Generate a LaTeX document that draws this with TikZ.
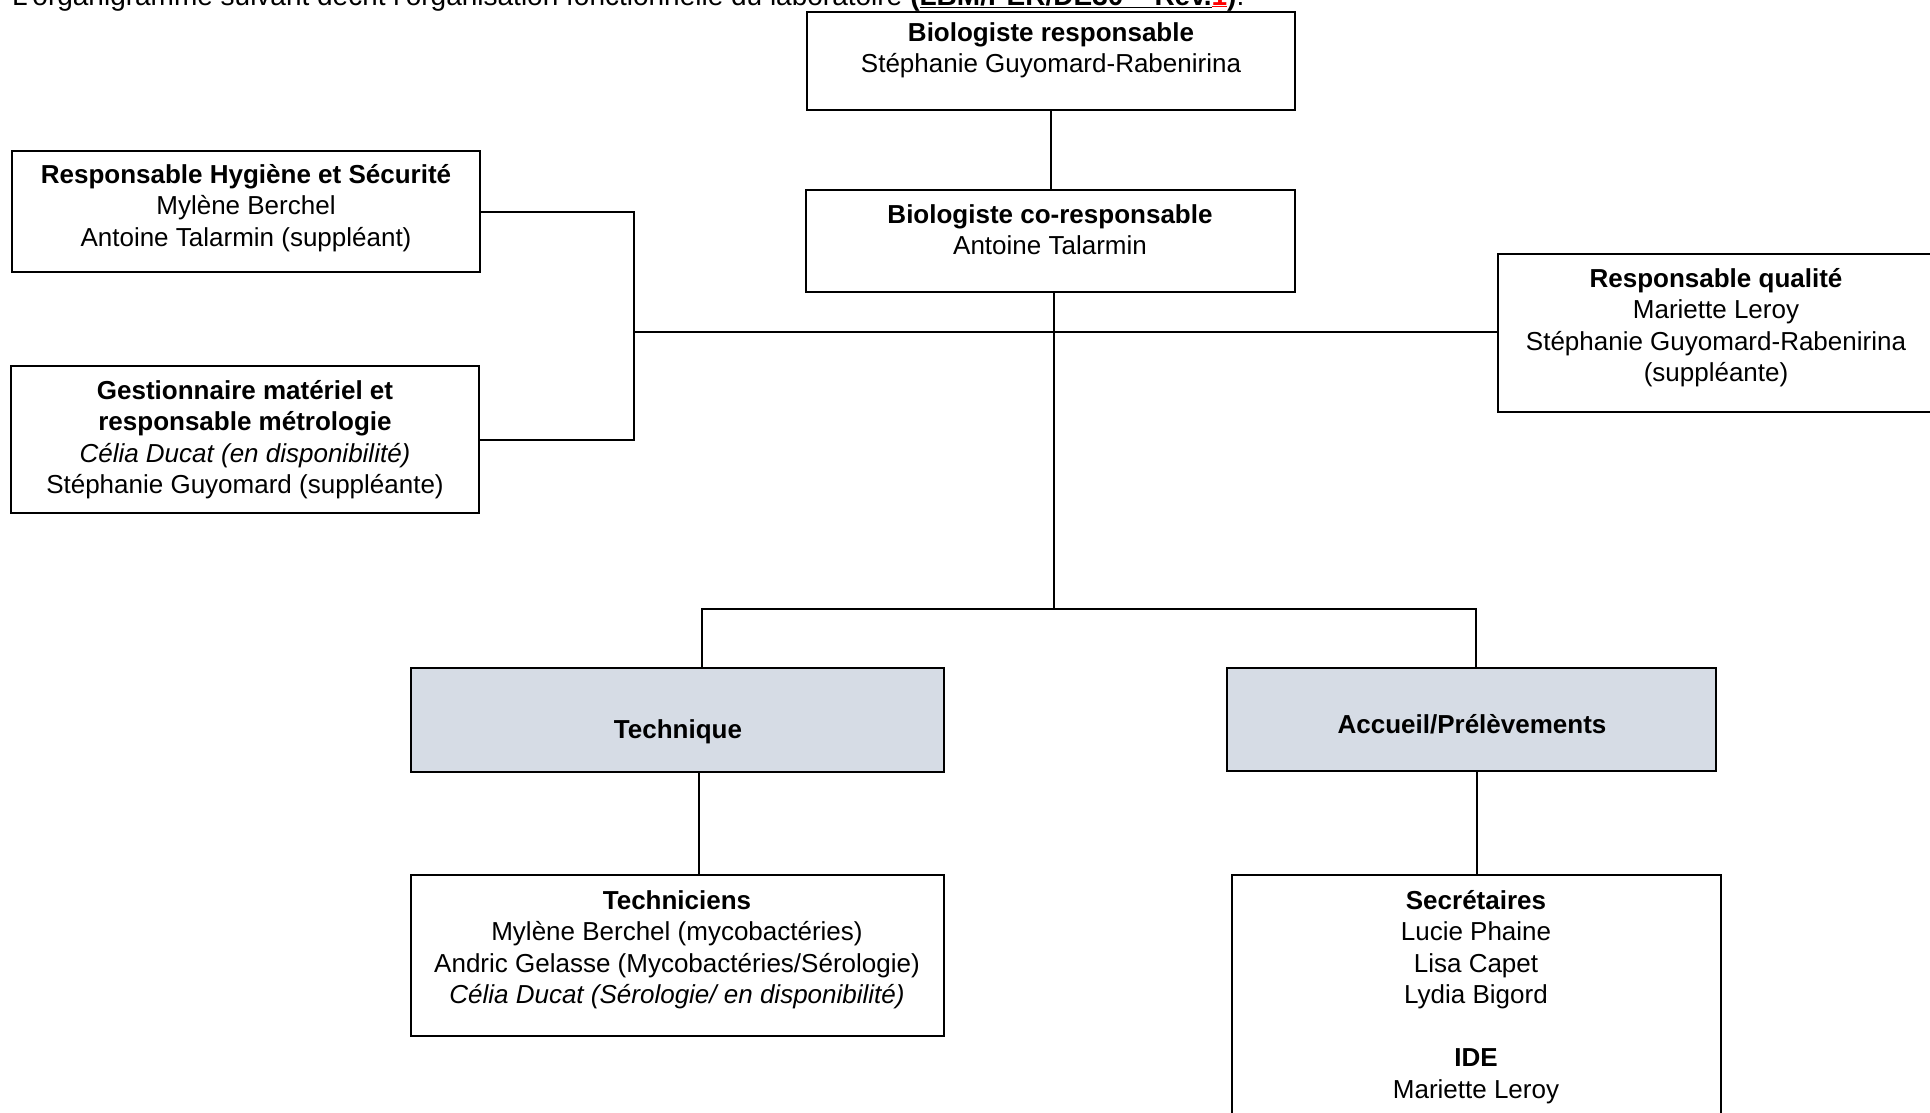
\documentclass[tikz,border=0pt]{standalone}
\usepackage{fontspec}
\setmainfont{Liberation Sans}
\usepackage{xcolor}
\definecolor{unitfill}{HTML}{D6DCE5}
\begin{document}
\begin{tikzpicture}[x=1pt,y=-1pt,
  orgbox/.style={draw=black, line width=2.2pt, inner sep=0pt, rectangle, fill=white},
  unitbox/.style={orgbox, fill=unitfill},
  boxtext/.style={anchor=north, align=center, inner sep=0pt,
    font=\fontsize{26}{31.5}\selectfont},
  link/.style={line width=2pt, line cap=rect}]
\useasboundingbox (0,0) rectangle (1930,1112);

% introductory sentence (runs off the top of the page)
\node[anchor=base west, inner sep=0pt, font=\fontsize{28}{33}\selectfont] (intro) at (12,5)
  {L’organigramme suivant décrit l’organisation fonctionnelle du laboratoire
   \textbf{(\underline{LBM/PER/DE30 – Rev.}\textcolor{red}{\underline{1}})}.};

% frames
\node[orgbox, minimum width=488pt, minimum height=98pt]  (resp)  at (1051,61)     {};
\node[orgbox, minimum width=489pt, minimum height=102pt] (cores) at (1050.5,241)  {};
\node[orgbox, minimum width=468pt, minimum height=121pt] (hyg)   at (246,211.5)   {};
\node[orgbox, minimum width=468pt, minimum height=147pt] (gest)  at (245,439.5)   {};
\node[orgbox, minimum width=436pt, minimum height=158pt] (qual)  at (1716,333)    {};
\node[unitbox, minimum width=533pt, minimum height=104pt] (tech) at (677.5,720)   {};
\node[unitbox, minimum width=489pt, minimum height=103pt] (acc)  at (1471.5,719.5) {};
\node[orgbox, minimum width=533pt, minimum height=161pt] (techn) at (677.5,955.5) {};
\node[orgbox, minimum width=489pt, minimum height=250pt] (secr)  at (1476.5,1000) {};

% texts
\node[boxtext] (resptxt) at (1051,19)
  {\strut\textbf{Biologiste responsable}\\Stéphanie Guyomard-Rabenirina};
\node[boxtext] (corestxt) at (1050,201)
  {\strut\textbf{Biologiste co-responsable}\\Antoine Talarmin};
\node[boxtext] (hygtxt) at (246,161)
  {\strut\textbf{Responsable Hygiène et Sécurité}\\Mylène Berchel\\Antoine Talarmin (suppléant)};
\node[boxtext] (gesttxt) at (245,377)
  {\strut\textbf{Gestionnaire matériel et}\\\textbf{responsable métrologie}\\
   \textit{Célia Ducat (en disponibilité)}\\Stéphanie Guyomard (suppléante)};
\node[boxtext] (qualtxt) at (1716,265)
  {\strut\textbf{Responsable qualité}\\Mariette Leroy\\Stéphanie Guyomard-Rabenirina\\(suppléante)};
\node[boxtext] (techtxt) at (678,716) {\strut\textbf{Technique}};
\node[boxtext] (acctxt) at (1472,711) {\strut\textbf{Accueil/Prélèvements}};
\node[boxtext] (techntxt) at (677,887)
  {\strut\textbf{Techniciens}\\Mylène Berchel (mycobactéries)\\
   Andric Gelasse (Mycobactéries/Sérologie)\\
   \textit{Célia Ducat (Sérologie/ en disponibilité)}};
\node[boxtext] (secrtxt) at (1476,887)
  {\strut\textbf{Secrétaires}\\Lucie Phaine\\Lisa Capet\\Lydia Bigord\\[31.5pt]
   \textbf{IDE}\\Mariette Leroy};

% junction points
\coordinate (leftbar) at (634,332);
\coordinate (split)   at (1054,609);
\coordinate (tleft)   at (702,609);
\coordinate (tright)  at (1476,609);

% connectors
\draw[link] (resp.south) -- (resp.south |- cores.north);
\draw[link] ([xshift=3.5pt]cores.south) -- (split);
\draw[link] (leftbar) -- (qual.west |- leftbar);
\draw[link] (hyg.east) -| (leftbar |- gest.east) -- (gest.east);
\draw[link] (tech.north -| tleft) -- (tleft) -- (tright) -- (acc.north -| tright);
\draw[link] ([xshift=21.5pt]tech.south) -- ([xshift=21.5pt]techn.north);
\draw[link] (acc.south -| secr.north) -- (secr.north);
\end{tikzpicture}
\end{document}
